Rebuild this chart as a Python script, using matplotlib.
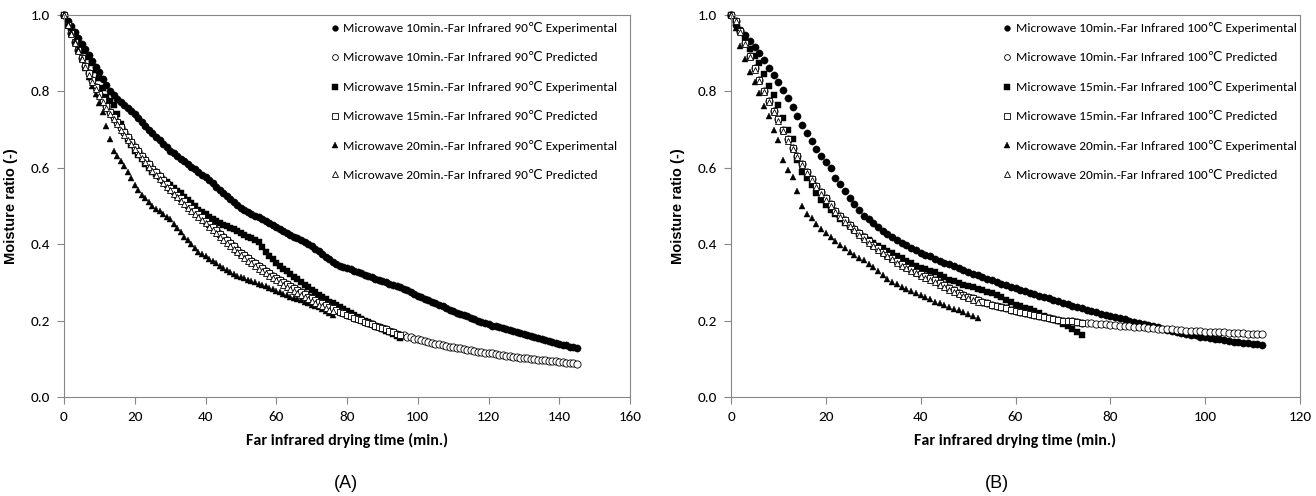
import matplotlib
matplotlib.use('Agg')
import matplotlib.pyplot as plt
from matplotlib import font_manager
import numpy as np

# Excel-like narrow font if one is installed, DejaVu behind it for the ℃ sign
installed = set(f.name for f in font_manager.fontManager.ttflist)
narrow = 'Liberation Sans'
for cand in ['Carlito', 'Source Sans 3', 'PT Sans Narrow', 'Archivo Narrow', 'Liberation Sans Narrow']:
    if cand in installed:
        narrow = cand
        break
NARROW = [narrow, 'DejaVu Sans']

# ---------------- panel A : far infrared 90 C (one reading per minute) ----------------
a_exp_10 = [
    1.000, 0.985, 0.970, 0.955, 0.940, 0.925, 0.910, 0.895, 0.880, 0.865,
    0.850, 0.833, 0.817, 0.800, 0.790, 0.780, 0.772, 0.764, 0.756, 0.748,
    0.740, 0.730, 0.720, 0.710, 0.700, 0.690, 0.681, 0.672, 0.663, 0.654,
    0.645, 0.638, 0.631, 0.624, 0.617, 0.610, 0.603, 0.596, 0.589, 0.582,
    0.575, 0.567, 0.559, 0.551, 0.543, 0.535, 0.527, 0.519, 0.511, 0.503,
    0.495, 0.490, 0.485, 0.480, 0.475, 0.470, 0.465, 0.460, 0.455, 0.450,
    0.445, 0.440, 0.435, 0.430, 0.425, 0.420, 0.415, 0.410, 0.405, 0.400,
    0.395, 0.388, 0.381, 0.374, 0.367, 0.360, 0.354, 0.348, 0.343, 0.340,
    0.338, 0.334, 0.331, 0.327, 0.324, 0.320, 0.317, 0.313, 0.310, 0.306,
    0.303, 0.300, 0.297, 0.294, 0.291, 0.288, 0.283, 0.279, 0.274, 0.270,
    0.265, 0.261, 0.257, 0.253, 0.249, 0.245, 0.241, 0.237, 0.233, 0.229,
    0.225, 0.221, 0.218, 0.214, 0.211, 0.207, 0.204, 0.200, 0.197, 0.193,
    0.190, 0.187, 0.185, 0.182, 0.180, 0.177, 0.175, 0.172, 0.170, 0.167,
    0.165, 0.162, 0.160, 0.157, 0.155, 0.152, 0.150, 0.147, 0.145, 0.142,
    0.140, 0.137, 0.135, 0.132, 0.130, 0.127]

a_pred_15 = [
    1.000, 0.975, 0.952, 0.930, 0.908, 0.887, 0.867, 0.848, 0.829, 0.811,
    0.793, 0.777, 0.762, 0.747, 0.733, 0.719, 0.706, 0.693, 0.680, 0.667,
    0.655, 0.643, 0.632, 0.620, 0.609, 0.598, 0.588, 0.578, 0.568, 0.558,
    0.548, 0.539, 0.530, 0.521, 0.512, 0.503, 0.495, 0.486, 0.478, 0.470,
    0.462, 0.453, 0.444, 0.436, 0.427, 0.418, 0.410, 0.402, 0.394, 0.386,
    0.378, 0.371, 0.364, 0.357, 0.350, 0.343, 0.337, 0.331, 0.324, 0.318,
    0.312, 0.307, 0.301, 0.296, 0.290, 0.285, 0.280, 0.274, 0.269, 0.263,
    0.258, 0.254, 0.249, 0.245, 0.240, 0.236, 0.232, 0.228, 0.223, 0.219,
    0.215, 0.211, 0.208, 0.204, 0.201, 0.197, 0.194, 0.190, 0.187, 0.183,
    0.180, 0.177, 0.173, 0.170, 0.166, 0.163]

# the 10 min prediction sits under the 15 min one until 95 min, then runs on alone
a_pred_10 = a_pred_15 + [
    0.161, 0.158, 0.156, 0.153, 0.151, 0.149, 0.147, 0.144, 0.142, 0.140,
    0.138, 0.136, 0.134, 0.132, 0.130, 0.128, 0.127, 0.125, 0.124, 0.122,
    0.121, 0.119, 0.118, 0.116, 0.115, 0.114, 0.112, 0.111, 0.109, 0.108,
    0.107, 0.106, 0.104, 0.103, 0.102, 0.101, 0.100, 0.099, 0.098, 0.097,
    0.096, 0.095, 0.094, 0.093, 0.092, 0.091, 0.090, 0.089, 0.088, 0.087]

a_exp_15 = [
    1.000, 0.982, 0.965, 0.950, 0.935, 0.920, 0.905, 0.890, 0.875, 0.855,
    0.835, 0.810, 0.785, 0.775, 0.765, 0.740, 0.715, 0.695, 0.675, 0.660,
    0.645, 0.633, 0.622, 0.610, 0.600, 0.590, 0.583, 0.576, 0.569, 0.562,
    0.555, 0.548, 0.540, 0.533, 0.524, 0.516, 0.507, 0.499, 0.490, 0.484,
    0.478, 0.472, 0.466, 0.460, 0.456, 0.451, 0.447, 0.443, 0.439, 0.434,
    0.430, 0.425, 0.420, 0.415, 0.410, 0.405, 0.393, 0.380, 0.370, 0.360,
    0.350, 0.343, 0.336, 0.329, 0.322, 0.315, 0.308, 0.301, 0.294, 0.287,
    0.280, 0.274, 0.268, 0.262, 0.256, 0.250, 0.245, 0.240, 0.235, 0.230,
    0.225, 0.220, 0.215, 0.210, 0.205, 0.200, 0.196, 0.191, 0.187, 0.182,
    0.178, 0.173, 0.169, 0.164, 0.160, 0.155]

a_exp_20 = [
    1.000, 0.978, 0.955, 0.933, 0.910, 0.885, 0.860, 0.838, 0.815, 0.793,
    0.770, 0.745, 0.710, 0.675, 0.645, 0.630, 0.618, 0.605, 0.588, 0.572,
    0.555, 0.543, 0.530, 0.520, 0.510, 0.500, 0.493, 0.486, 0.479, 0.472,
    0.465, 0.454, 0.443, 0.431, 0.420, 0.410, 0.400, 0.390, 0.380, 0.374,
    0.368, 0.362, 0.356, 0.350, 0.344, 0.339, 0.333, 0.328, 0.322, 0.318,
    0.314, 0.311, 0.307, 0.303, 0.300, 0.297, 0.293, 0.290, 0.286, 0.282,
    0.278, 0.274, 0.270, 0.267, 0.263, 0.260, 0.256, 0.253, 0.249, 0.246,
    0.242, 0.239, 0.235, 0.230, 0.225, 0.220, 0.215]

a_pred_20 = [
    1.000, 0.974, 0.950, 0.927, 0.905, 0.884, 0.864, 0.844, 0.825, 0.807,
    0.789, 0.773, 0.757, 0.742, 0.728, 0.714, 0.700, 0.687, 0.674, 0.661,
    0.649, 0.637, 0.625, 0.614, 0.603, 0.592, 0.581, 0.571, 0.561, 0.551,
    0.541, 0.532, 0.523, 0.514, 0.505, 0.496, 0.488, 0.479, 0.471, 0.463,
    0.455, 0.446, 0.437, 0.429, 0.420, 0.411, 0.403, 0.395, 0.387, 0.379,
    0.371, 0.364, 0.357, 0.350, 0.343, 0.336, 0.330, 0.324, 0.317, 0.311,
    0.305, 0.300, 0.294, 0.289, 0.283, 0.278, 0.273, 0.267, 0.262, 0.256,
    0.251, 0.247, 0.242, 0.238, 0.233, 0.229, 0.225]

# ---------------- panel B : far infrared 100 C ----------------
b_exp_10 = [
    1.000, 0.975, 0.962, 0.948, 0.933, 0.917, 0.900, 0.882, 0.860, 0.843,
    0.825, 0.804, 0.782, 0.758, 0.735, 0.712, 0.690, 0.670, 0.650, 0.632,
    0.615, 0.600, 0.573, 0.557, 0.540, 0.522, 0.505, 0.490, 0.475, 0.465,
    0.455, 0.445, 0.435, 0.427, 0.418, 0.410, 0.404, 0.397, 0.391, 0.384,
    0.378, 0.373, 0.368, 0.362, 0.357, 0.352, 0.347, 0.342, 0.338, 0.333,
    0.328, 0.323, 0.319, 0.314, 0.310, 0.305, 0.301, 0.297, 0.293, 0.289,
    0.285, 0.281, 0.277, 0.273, 0.269, 0.265, 0.261, 0.258, 0.254, 0.251,
    0.247, 0.243, 0.239, 0.236, 0.232, 0.228, 0.225, 0.222, 0.218, 0.215,
    0.212, 0.209, 0.206, 0.203, 0.200, 0.197, 0.194, 0.191, 0.188, 0.185,
    0.182, 0.179, 0.176, 0.174, 0.171, 0.168, 0.166, 0.163, 0.161, 0.158,
    0.156, 0.154, 0.152, 0.151, 0.149, 0.147, 0.145, 0.144, 0.142, 0.141,
    0.139, 0.138, 0.136]

b_pred_15 = [
    1.000, 0.985, 0.958, 0.927, 0.893, 0.860, 0.830, 0.802, 0.775, 0.750,
    0.727, 0.700, 0.675, 0.653, 0.632, 0.611, 0.590, 0.571, 0.553, 0.536,
    0.520, 0.504, 0.488, 0.475, 0.463, 0.451, 0.440, 0.429, 0.418, 0.408,
    0.398, 0.389, 0.380, 0.372, 0.364, 0.356, 0.348, 0.341, 0.335, 0.328,
    0.322, 0.316, 0.311, 0.305, 0.298, 0.292, 0.285, 0.279, 0.273, 0.268,
    0.262, 0.258, 0.254, 0.250, 0.246, 0.242, 0.239, 0.235, 0.232, 0.229,
    0.226, 0.223, 0.221, 0.218, 0.215, 0.212, 0.209, 0.207, 0.204, 0.202,
    0.200, 0.199, 0.198, 0.196, 0.195]

# same story in panel B: hidden under the 15 min prediction up to 74 min
b_pred_10 = b_pred_15 + [
    0.194, 0.193, 0.192, 0.191, 0.190, 0.189, 0.188, 0.187, 0.186, 0.185,
    0.184, 0.183, 0.182, 0.181, 0.180, 0.179, 0.178, 0.177, 0.177, 0.176,
    0.175, 0.174, 0.173, 0.173, 0.172, 0.171, 0.170, 0.170, 0.169, 0.169,
    0.168, 0.168, 0.167, 0.167, 0.166, 0.166, 0.165, 0.165]

b_exp_15 = [
    1.000, 0.978, 0.959, 0.940, 0.910, 0.893, 0.875, 0.845, 0.815, 0.790,
    0.765, 0.730, 0.700, 0.675, 0.620, 0.590, 0.572, 0.555, 0.535, 0.515,
    0.503, 0.490, 0.478, 0.465, 0.456, 0.447, 0.437, 0.428, 0.418, 0.410,
    0.403, 0.395, 0.389, 0.383, 0.376, 0.370, 0.363, 0.357, 0.350, 0.343,
    0.339, 0.335, 0.330, 0.326, 0.320, 0.313, 0.307, 0.303, 0.298, 0.294,
    0.290, 0.287, 0.283, 0.280, 0.276, 0.271, 0.267, 0.262, 0.255, 0.249,
    0.242, 0.238, 0.234, 0.230, 0.226, 0.220, 0.213, 0.207, 0.203, 0.198,
    0.192, 0.185, 0.178, 0.170, 0.163]

b_exp_20 = [
    1.000, 0.965, 0.920, 0.885, 0.852, 0.825, 0.795, 0.762, 0.735, 0.700,
    0.672, 0.620, 0.595, 0.575, 0.540, 0.500, 0.478, 0.468, 0.454, 0.440,
    0.429, 0.418, 0.408, 0.398, 0.389, 0.380, 0.373, 0.365, 0.358, 0.349,
    0.340, 0.330, 0.320, 0.310, 0.302, 0.295, 0.287, 0.282, 0.277, 0.272,
    0.267, 0.261, 0.256, 0.250, 0.245, 0.241, 0.236, 0.231, 0.227, 0.222,
    0.218, 0.212, 0.206]

b_pred_20 = [
    1.000, 0.983, 0.955, 0.923, 0.889, 0.856, 0.826, 0.798, 0.771, 0.746,
    0.723, 0.696, 0.671, 0.649, 0.628, 0.607, 0.586, 0.567, 0.549, 0.532,
    0.516, 0.500, 0.484, 0.471, 0.459, 0.447, 0.436, 0.425, 0.414, 0.404,
    0.394, 0.385, 0.376, 0.368, 0.360, 0.352, 0.344, 0.337, 0.331, 0.324,
    0.318, 0.312, 0.307, 0.301, 0.294, 0.288, 0.281, 0.275, 0.269, 0.264,
    0.258, 0.254, 0.250]


def draw_panel(ax, temp, series, xmax, legend_x):
    markers = ['o', 'o', 's', 's', '^', '^']
    filled = [True, False, True, False, True, False]
    names = ['10min.', '10min.', '15min.', '15min.', '20min.', '20min.']
    kinds = ['Experimental', 'Predicted'] * 3
    sizes = [5.2, 5.2, 4.6, 4.6, 4.6, 4.6]
    for vals, m, f, nm, kd, ms in zip(series, markers, filled, names, kinds, sizes):
        t = np.arange(len(vals))
        ax.plot(t, vals, linestyle='none', marker=m, markersize=ms,
                markerfacecolor='black' if f else 'white',
                markeredgecolor='black', markeredgewidth=0.3 if f else 0.6,
                clip_on=False,
                label='Microwave ' + nm + '-Far Infrared ' + temp + '℃ ' + kd)

    ax.set_xlim(0, xmax)
    ax.set_ylim(0, 1.0)
    ax.set_xticks(np.arange(0, xmax + 1, 20))
    ax.set_yticks(np.arange(0, 1.01, 0.2))
    ax.set_yticklabels(['%.1f' % v for v in np.arange(0, 1.01, 0.2)])
    for s in ax.spines.values():
        s.set_color('#868686')
        s.set_linewidth(0.8)
    ax.tick_params(direction='out', length=5, width=0.8, color='#868686',
                   labelsize=11, pad=5)
    for lab in ax.get_xticklabels() + ax.get_yticklabels():
        lab.set_family(NARROW)
    ax.set_xlabel('Far infrared drying time (min.)', family=NARROW,
                  fontweight='bold', fontsize=11.5, labelpad=7)
    ax.set_ylabel('Moisture ratio (-)', family='Liberation Sans',
                  fontweight='bold', fontsize=10.5, labelpad=9)

    ax.legend(loc='upper left', bbox_to_anchor=(legend_x, 1.005), frameon=False,
              prop={'family': NARROW, 'size': 9.5}, handlelength=0.6,
              handletextpad=0.35, labelspacing=1.35, borderaxespad=0.3,
              markerscale=0.8)


fig = plt.figure(figsize=(13.16, 4.96), dpi=100)
ax_a = fig.add_axes([64 / 1316, 99 / 496, 566 / 1316, 382 / 496])
ax_b = fig.add_axes([731 / 1316, 99 / 496, 569 / 1316, 382 / 496])

draw_panel(ax_a, '90', [a_exp_10, a_pred_10, a_exp_15, a_pred_15, a_exp_20, a_pred_20],
           160, 0.455)
draw_panel(ax_b, '100', [b_exp_10, b_pred_10, b_exp_15, b_pred_15, b_exp_20, b_pred_20],
           120, 0.462)

fig.text(346 / 1316, 1 - 483 / 496, '(A)', ha='center', va='center', fontsize=13,
         family='Liberation Sans')
fig.text(997 / 1316, 1 - 483 / 496, '(B)', ha='center', va='center', fontsize=13,
         family='Liberation Sans')

fig.savefig('out.png', dpi=100)
